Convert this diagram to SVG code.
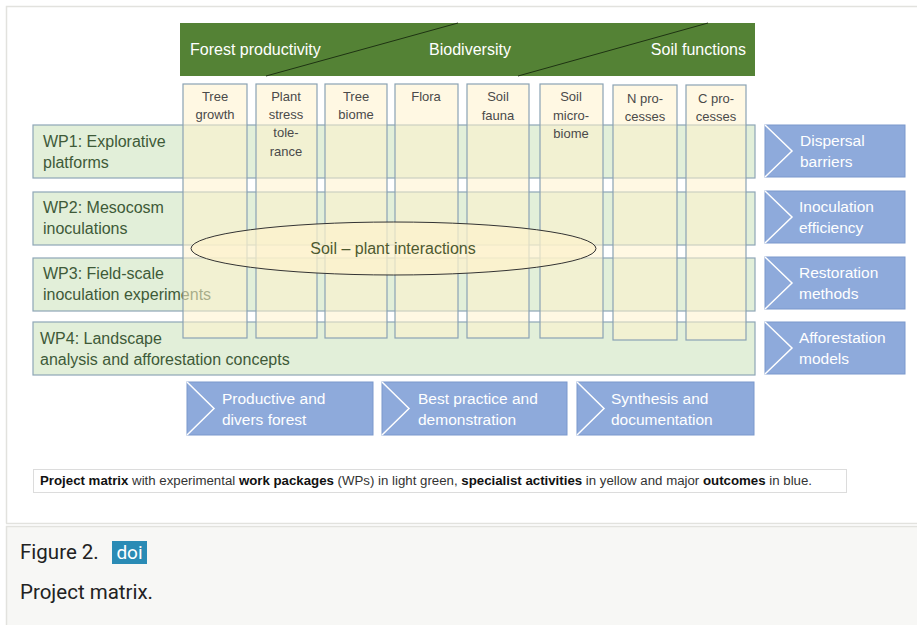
<svg xmlns="http://www.w3.org/2000/svg" width="917" height="625" viewBox="0 0 917 625">
<defs>
<style>
.hdr{font-family:"Liberation Sans",Arial,sans-serif;font-size:16px;fill:#ffffff}
.wp{fill:#e2efd9;stroke:#8ea6b6;stroke-width:1.2}
.wpt{font-family:"Liberation Sans",Arial,sans-serif;font-size:16px;fill:#3e5a38}
.col{fill:#fff2cc;fill-opacity:0.55;stroke:#8aa2b4;stroke-width:1.2}
.colt{font-family:"Liberation Sans",Arial,sans-serif;font-size:13px;fill:#4a4a4a;text-anchor:middle}
.out{fill:#8eaadb;stroke:#7a98cc;stroke-width:1}
.chev{fill:none;stroke:#ffffff;stroke-width:1.5}
.outt{font-family:"Liberation Sans",Arial,sans-serif;font-size:15.5px;fill:#ffffff}
.cap{font-family:"Liberation Sans",Arial,sans-serif;font-size:12px;fill:#333333}
.b{font-weight:bold;fill:#111111}
.fig{font-family:Roboto,"Liberation Sans",Arial,sans-serif;font-size:20.5px;fill:#222222}
</style>
</defs>
<rect x="0" y="0" width="917" height="625" fill="#ffffff"/>
<!-- frame -->
<path d="M6.5,523.5 V6.5 H917" fill="none" stroke="#e2e2de" stroke-width="1.5"/>
<line x1="6" y1="523.5" x2="917" y2="523.5" stroke="#e2e2de" stroke-width="1.5"/>
<rect x="6.5" y="526.5" width="912" height="100" fill="#f7f7f5" stroke="#e2e2de" stroke-width="1.5"/>

<!-- header -->
<g id="header">
<rect x="180" y="23" width="575" height="53" fill="#548235"/>
<line x1="266" y1="76" x2="458" y2="23" stroke="#1e3312" stroke-width="1"/>
<line x1="518" y1="76" x2="708" y2="23" stroke="#1e3312" stroke-width="1"/>
<text class="hdr" x="190" y="55">Forest productivity</text>
<text class="hdr" x="470" y="55" text-anchor="middle">Biodiversity</text>
<text class="hdr" x="746" y="55" text-anchor="end">Soil functions</text>
</g>

<!-- work packages -->
<g id="wp1"><rect class="wp" x="33" y="125" width="722" height="53"/>
<text class="wpt" x="43" y="147">WP1: Explorative</text><text class="wpt" x="43" y="168">platforms</text></g>
<g id="wp2"><rect class="wp" x="33" y="192" width="722" height="53"/>
<text class="wpt" x="43" y="213">WP2: Mesocosm</text><text class="wpt" x="43" y="234">inoculations</text></g>
<g id="wp3"><rect class="wp" x="33" y="258" width="722" height="53"/>
<text class="wpt" x="43" y="279">WP3: Field-scale</text><text class="wpt" x="43" y="300">inoculation experiments</text></g>
<g id="wp4"><rect class="wp" x="33" y="322" width="722" height="53"/>
<text class="wpt" x="40" y="344">WP4: Landscape</text><text class="wpt" x="40" y="365">analysis and afforestation concepts</text></g>

<!-- specialist activity columns -->
<g id="c1"><rect class="col" x="183" y="84" width="64" height="254"/>
<text class="colt" x="215" y="101">Tree</text><text class="colt" x="215" y="119">growth</text></g>
<g id="c2"><rect class="col" x="256" y="84" width="61" height="254"/>
<text class="colt" x="286" y="101">Plant</text><text class="colt" x="286" y="119">stress</text><text class="colt" x="286" y="137">tole-</text><text class="colt" x="286" y="156">rance</text></g>
<g id="c3"><rect class="col" x="325" y="84" width="62" height="254"/>
<text class="colt" x="356" y="101">Tree</text><text class="colt" x="356" y="119">biome</text></g>
<g id="c4"><rect class="col" x="395" y="84" width="63" height="254"/>
<text class="colt" x="426" y="101">Flora</text></g>
<g id="c5"><rect class="col" x="467" y="84" width="62" height="254"/>
<text class="colt" x="498" y="101">Soil</text><text class="colt" x="498" y="120">fauna</text></g>
<g id="c6"><rect class="col" x="540" y="84" width="63" height="254"/>
<text class="colt" x="571" y="101">Soil</text><text class="colt" x="571" y="120">micro-</text><text class="colt" x="571" y="138">biome</text></g>
<g id="c7"><rect class="col" x="613" y="85" width="64" height="255"/>
<text class="colt" x="645" y="103">N pro-</text><text class="colt" x="645" y="121">cesses</text></g>
<g id="c8"><rect class="col" x="686" y="85" width="60" height="255"/>
<text class="colt" x="716" y="103">C pro-</text><text class="colt" x="716" y="121">cesses</text></g>

<!-- ellipse -->
<g id="soilplant">
<ellipse cx="393.5" cy="248.5" rx="202.5" ry="26.5" fill="#fcf2cc" fill-opacity="0.75" stroke="#333333" stroke-width="1"/>
<text x="393" y="254" text-anchor="middle" font-family="'Liberation Sans',Arial,sans-serif" font-size="16px" fill="#4e5a30">Soil – plant interactions</text>
</g>

<!-- outcomes right -->
<g id="o1"><rect class="out" x="765" y="125" width="140" height="52"/><path class="chev" d="M765,125 L792,151 L765,177"/>
<text class="outt" x="800" y="146">Dispersal</text><text class="outt" x="800" y="167">barriers</text></g>
<g id="o2"><rect class="out" x="765" y="191" width="140" height="52"/><path class="chev" d="M765,191 L792,217 L765,243"/>
<text class="outt" x="799" y="212">Inoculation</text><text class="outt" x="799" y="233">efficiency</text></g>
<g id="o3"><rect class="out" x="765" y="257" width="140" height="52"/><path class="chev" d="M765,257 L792,283 L765,309"/>
<text class="outt" x="799" y="278">Restoration</text><text class="outt" x="799" y="299">methods</text></g>
<g id="o4"><rect class="out" x="765" y="322" width="140" height="52"/><path class="chev" d="M765,322 L792,348 L765,374"/>
<text class="outt" x="799" y="343">Afforestation</text><text class="outt" x="799" y="364">models</text></g>

<!-- outcomes bottom -->
<g id="o5"><rect class="out" x="187" y="382" width="186" height="53"/><path class="chev" d="M187,382 L214,408.5 L187,435"/>
<text class="outt" x="222" y="404">Productive and</text><text class="outt" x="222" y="425">divers forest</text></g>
<g id="o6"><rect class="out" x="382" y="382" width="185" height="53"/><path class="chev" d="M382,382 L409,408.5 L382,435"/>
<text class="outt" x="418" y="404">Best practice and</text><text class="outt" x="418" y="425">demonstration</text></g>
<g id="o7"><rect class="out" x="577" y="382" width="177" height="53"/><path class="chev" d="M577,382 L604,408.5 L577,435"/>
<text class="outt" x="611" y="404">Synthesis and</text><text class="outt" x="611" y="425">documentation</text></g>

<g id="connectors"></g>

<!-- legend caption -->
<g id="legend">
<rect x="33.5" y="469.5" width="813" height="23" fill="#ffffff" stroke="#dcdcdc" stroke-width="1"/>
<text class="cap" x="40" y="485" textLength="772" lengthAdjust="spacingAndGlyphs"><tspan class="b">Project matrix</tspan> with experimental <tspan class="b">work packages</tspan> (WPs) in light green, <tspan class="b">specialist activities</tspan>  in yellow and major <tspan class="b">outcomes</tspan> in blue.</text>
</g>

<!-- figure caption -->
<g id="figcaption">
<text class="fig" x="20" y="559">Figure 2.</text>
<rect x="112" y="541" width="35" height="23" fill="#2a8bb5"/>
<text x="129.5" y="559" text-anchor="middle" font-family="Roboto,'Liberation Sans',Arial,sans-serif" font-size="19px" fill="#ffffff">doi</text>
<text class="fig" x="20" y="599">Project matrix.</text>
</g>
</svg>
